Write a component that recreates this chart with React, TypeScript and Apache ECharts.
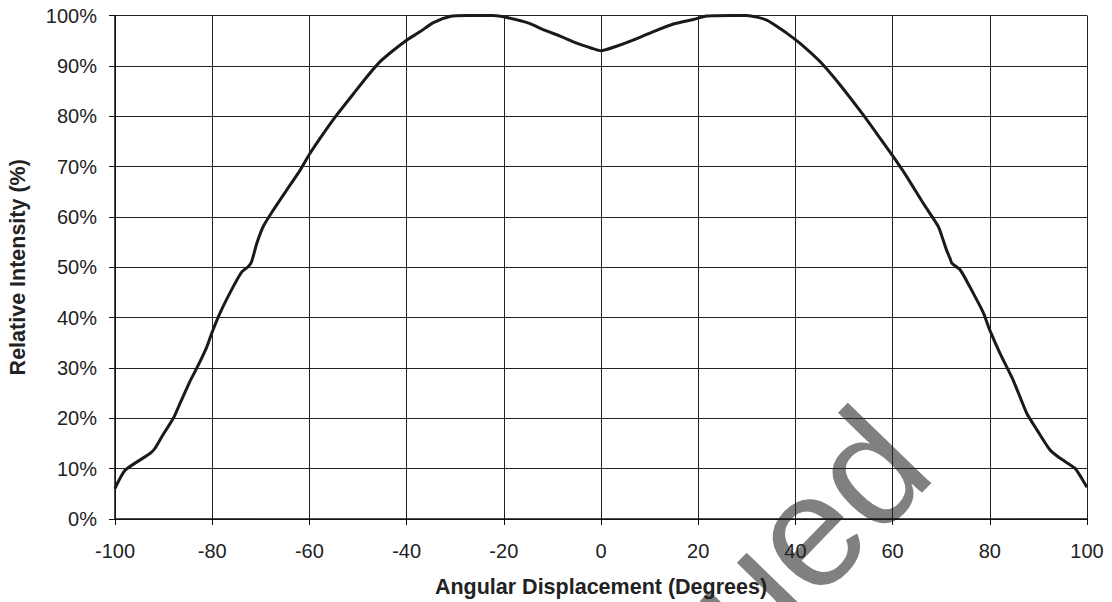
import React, { useEffect, useRef } from "react";
import * as echarts from "echarts";

const angles = [
  -100, -97.9, -92.8, -91.8, -90.4, -88, -86.6, -84.6, -83.2, -81.1, -80.1, -78.4, -75.7, -73.9, -72.6,
  -71.9, -70.8, -69.5, -67.4, -64.7, -61.9, -59.9, -57.1, -54.4, -50.9, -48.2, -45.5, -42.7, -40, -37.2,
  -34.5, -31.1, -27.6, -22.2, -19.4, -14.6, -11.9, -8.4, -5, -1.9, 0, 3.2, 6.6, 10.8, 14.9, 19, 21.7,
  27.2, 30, 34.1, 38.2, 40.9, 45.1, 49.2, 54, 56.7, 60.1, 62.9, 66.3, 69.4, 70.4, 71.1, 71.8, 72.2, 73.9,
  75.9, 78.7, 80, 82.1, 84.8, 87.6, 89.7, 92.4, 94.4, 97.5, 98.9, 100,
];
const intensity = [
  6.1, 9.7, 13, 14, 16.3, 20, 23, 27.3, 29.9, 34.2, 36.9, 40.9, 46.1, 49.1, 50.1, 51.1, 54.8, 58.1, 61.4,
  65.3, 69.3, 72.6, 76.6, 80.2, 84.5, 87.8, 90.8, 93.1, 95.1, 96.8, 98.6, 99.8, 100, 100, 99.6, 98.4, 97.2,
  95.9, 94.5, 93.5, 93, 93.9, 95.1, 96.8, 98.3, 99.2, 99.9, 100, 100, 99.1, 96.5, 94.5, 90.8, 86.2, 80.2,
  76.6, 72, 68, 62.7, 58.1, 55.4, 53.4, 51.8, 50.8, 49.5, 46.1, 40.9, 37.5, 32.9, 27.6, 21, 17.7, 13.7,
  12.1, 10.1, 8.1, 6.3,
];

const xTitle = "Angular Displacement (Degrees)";
const yTitle = "Relative Intensity (%)";
const watermark = "ued";

export default function App() {
  const ref = useRef<HTMLDivElement>(null);
  useEffect(() => {
    if (!ref.current) return;
    const chart = echarts.init(ref.current, null, { renderer: "svg" });
    const font = "'Liberation Sans', Arial, sans-serif";
    chart.setOption({
      animation: false,
      backgroundColor: "#ffffff",
      textStyle: { fontFamily: font },
      grid: {
        left: 115,
        right: 25,
        top: 15.5,
        bottom: 83,
        containLabel: false,
        outerBoundsMode: "none",
      },
      graphic: {
        elements: [
          {
            type: "text",
            z: -10,
            x: 806,
            y: 533,
            rotation: (46 * Math.PI) / 180,
            silent: true,
            style: {
              text: watermark,
              fill: "#808080",
              font: "160px 'Liberation Sans', Arial, sans-serif",
              textAlign: "center",
              textVerticalAlign: "middle",
            },
          },
        ],
      },
      xAxis: {
        type: "value",
        min: -100,
        max: 100,
        interval: 20,
        name: xTitle,
        nameLocation: "middle",
        nameGap: 57,
        nameTextStyle: { fontSize: 21.5, fontWeight: "bold", color: "#222", fontFamily: font },
        axisLine: { show: true, onZero: false, lineStyle: { color: "#111", width: 1.5 } },
        axisTick: { show: true, inside: false, length: 6, lineStyle: { color: "#111" } },
        axisLabel: { fontSize: 20, color: "#222", margin: 22, fontFamily: font },
        splitLine: { show: true, lineStyle: { color: "#222", width: 1 } },
      },
      yAxis: {
        type: "value",
        min: 0,
        max: 100,
        interval: 10,
        name: yTitle,
        nameLocation: "middle",
        nameGap: 86,
        nameTextStyle: { fontSize: 21.5, fontWeight: "bold", color: "#222", fontFamily: font },
        axisLine: { show: true, onZero: false, lineStyle: { color: "#111", width: 1.5 } },
        axisTick: { show: true, inside: false, length: 6, lineStyle: { color: "#111" } },
        axisLabel: { fontSize: 20, color: "#222", margin: 18, formatter: "{value}%", fontFamily: font },
        splitLine: { show: true, lineStyle: { color: "#222", width: 1 } },
      },
      series: [
        {
          type: "line",
          data: angles.map((a, i) => [a, intensity[i]]),
          smooth: 0.2,
          showSymbol: false,
          lineStyle: { color: "#1a1a1a", width: 3 },
          z: 5,
        },
      ],
    });
    return () => chart.dispose();
  }, []);
  return (
    <div
      ref={ref}
      style={{ position: "fixed", left: 0, top: 0, width: 1112, height: 602, background: "#fff" }}
    />
  );
}
